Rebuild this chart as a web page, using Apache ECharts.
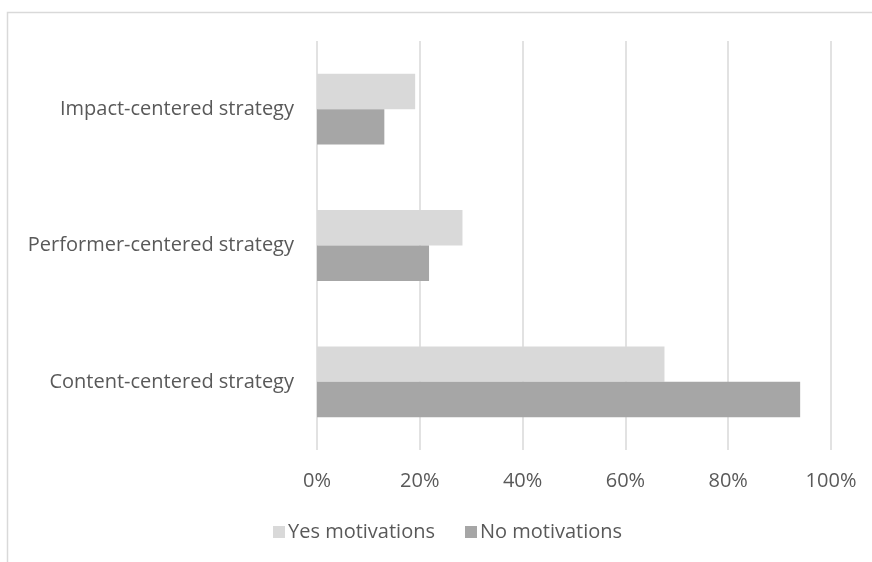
<!DOCTYPE html>
<html>
<head>
<meta charset="utf-8">
<script src="https://cdn.jsdelivr.net/npm/echarts@6/dist/echarts.min.js"></script>
<style>html,body{margin:0;padding:0;background:#fff;}#c{width:872px;height:562px;}</style>
</head>
<body>
<div id="c"></div>
<script>
var categories = ["Content-centered strategy", "Performer-centered strategy", "Impact-centered strategy"];
var yesValues = [67.6, 28.3, 19.1];
var noValues = [94.0, 21.8, 13.1];
var seriesNames = ["Yes motivations", "No motivations"];
var tickMax = 100;
var tickStep = 20;

var FONT = "Open Sans";
var chart = echarts.init(document.getElementById('c'), null, {renderer: 'canvas'});
chart.setOption({
  animation: false,
  backgroundColor: '#fff',
  textStyle: {fontFamily: FONT},
  graphic: [{
    type: 'rect',
    shape: {x: 7.5, y: 12.5, width: 1000, height: 1000},
    style: {fill: 'none', stroke: '#d9d9d9', lineWidth: 1.5},
    silent: true
  }],
  grid: {left: 317, right: 41, top: 41, bottom: 112, containLabel: false},
  legend: {
    data: seriesNames,
    left: 268,
    top: 517,
    itemWidth: 12,
    itemHeight: 12,
    itemGap: 30,
    icon: 'rect',
    textStyle: {color: '#595959', fontSize: 20, fontFamily: FONT, padding: [0, 0, 0, -2]}
  },
  xAxis: {
    type: 'value',
    min: 0,
    max: tickMax,
    interval: tickStep,
    axisLine: {show: false},
    axisTick: {show: false},
    splitLine: {show: true, lineStyle: {color: '#d9d9d9', width: 1.5}},
    axisLabel: {color: '#595959', fontSize: 20, fontFamily: FONT, margin: 21, formatter: '{value}%'}
  },
  yAxis: {
    type: 'category',
    data: categories,
    axisLine: {show: false},
    axisTick: {show: false},
    axisLabel: {color: '#595959', fontSize: 20, fontFamily: FONT, margin: 23}
  },
  series: [
    {name: seriesNames[0], type: 'bar', data: yesValues, barGap: '0%', barCategoryGap: '48%', itemStyle: {color: '#d9d9d9'}},
    {name: seriesNames[1], type: 'bar', data: noValues, barGap: '0%', barCategoryGap: '48%', itemStyle: {color: '#a6a6a6'}}
  ]
});
</script>
</body>
</html>
